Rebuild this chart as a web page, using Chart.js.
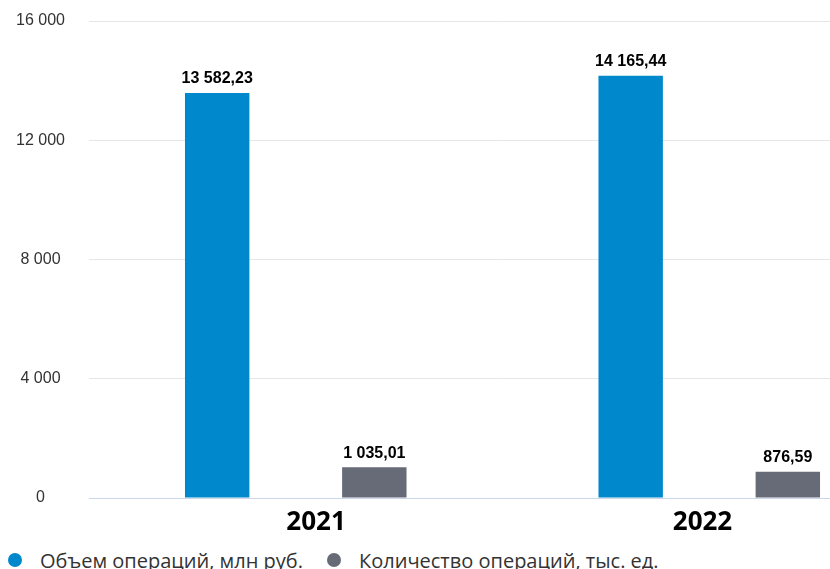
<!DOCTYPE html>
<html>
<head>
<meta charset="utf-8">
<script src="https://cdn.jsdelivr.net/npm/chart.js@4.4.1/dist/chart.umd.min.js"></script>
<style>
    body { margin: 0; width: 830px; height: 569px; overflow: hidden; background: #fff; position: relative; }
    #chartBox { position: absolute; left: 0; top: 0; width: 916px; height: 545px; }
    .legendItem { position: absolute; top: 549px; height: 22px; display: flex; align-items: center;
        font-family: 'Open Sans', sans-serif; font-size: 20px; color: #333; white-space: nowrap; }
    .legendDot { width: 14px; height: 14px; border-radius: 50%; margin-right: 18px; }
</style>
</head>
<body>
<div id="chartBox"><canvas id="myChart"></canvas></div>
<div id="legend"></div>
<script>
let years = ['2021', '2022'];
let volumeValues = [13582.23, 14165.44];
let countValues = [1035.01, 876.59];
let seriesNames = ['Объем операций, млн руб.', 'Количество операций, тыс. ед.'];
let seriesColors = ['#0088cc', '#676b78'];
let yTicks = [0, 4000, 8000, 12000, 16000];

// the year labels in the original sit a little off-centre
let yearLabelNudge = [6, -2];

function formatNumber(value, decimals) {
    let parts = value.toFixed(decimals).split('.');
    let whole = parts[0].replace(/\B(?=(\d{3})+(?!\d))/g, ' ');
    return parts.length > 1 ? whole + ',' + parts[1] : whole;
}

function nudgeLabel(text, n) {
    let pad = '\u00a0'.repeat(Math.abs(n));
    return n > 0 ? pad + text : text + pad;
}

const valueLabels = {
    id: 'valueLabels',
    afterDatasetsDraw(chart) {
        let ctx = chart.ctx;
        ctx.save();
        ctx.font = 'bold 16px "Liberation Sans", Arial, sans-serif';
        ctx.textAlign = 'center';
        ctx.textBaseline = 'bottom';
        ctx.lineJoin = 'round';
        chart.data.datasets.forEach((dataset, i) => {
            chart.getDatasetMeta(i).data.forEach((bar, j) => {
                let text = formatNumber(dataset.data[j], 2);
                ctx.strokeStyle = 'rgba(255,255,255,0.9)';
                ctx.lineWidth = 3;
                ctx.strokeText(text, bar.x, bar.y - 6);
                ctx.fillStyle = '#000';
                ctx.fillText(text, bar.x, bar.y - 6);
            });
        });
        ctx.restore();
    }
};

const ctx = document.getElementById('myChart').getContext('2d');
const myChart = new Chart(ctx, {
    type: 'bar',
    data: {
        labels: years,
        datasets: [
            { label: seriesNames[0], data: volumeValues, backgroundColor: seriesColors[0] },
            { label: seriesNames[1], data: countValues, backgroundColor: seriesColors[1] }
        ]
    },
    options: {
        responsive: true,
        maintainAspectRatio: false,
        animation: false,
        layout: { padding: { top: 21, left: 17, right: 0, bottom: 6 } },
        datasets: { bar: { categoryPercentage: 0.76, barPercentage: 0.41 } },
        plugins: {
            legend: { display: false },
            tooltip: { enabled: false }
        },
        scales: {
            x: {
                afterFit: (axis) => { axis.height = 41; },
                grid: { display: false, drawTicks: false },
                border: { color: '#ccd6eb', width: 1 },
                ticks: {
                    padding: 9,
                    color: '#000',
                    font: { family: "'Open Sans', sans-serif", size: 26, weight: 'bold' },
                    callback: (value, index) => nudgeLabel(years[index], yearLabelNudge[index])
                }
            },
            y: {
                min: 0,
                max: 16000,
                afterBuildTicks: (axis) => { axis.ticks = yTicks.map(v => ({ value: v })); },
                afterFit: (axis) => {
                    axis.width = 72;
                    axis.paddingTop = 10;
                    axis.paddingBottom = 0;
                },
                border: { display: false },
                grid: { color: '#e6e6e6', drawTicks: false },
                ticks: {
                    padding: 24,
                    crossAlign: 'center',
                    color: '#333',
                    font: { family: "'Liberation Sans', Arial, sans-serif", size: 16 },
                    callback: (value) => formatNumber(value, 0)
                }
            }
        }
    },
    plugins: [valueLabels]
});

let legendLefts = [8, 327];
let legendHtml = '';
for (let i = 0; i < seriesNames.length; i++) {
    legendHtml += `<div class="legendItem" style="left:${legendLefts[i]}px">
        <span class="legendDot" style="background:${seriesColors[i]}"></span>${seriesNames[i]}</div>`;
}
document.getElementById('legend').innerHTML = legendHtml;
</script>
</body>
</html>
